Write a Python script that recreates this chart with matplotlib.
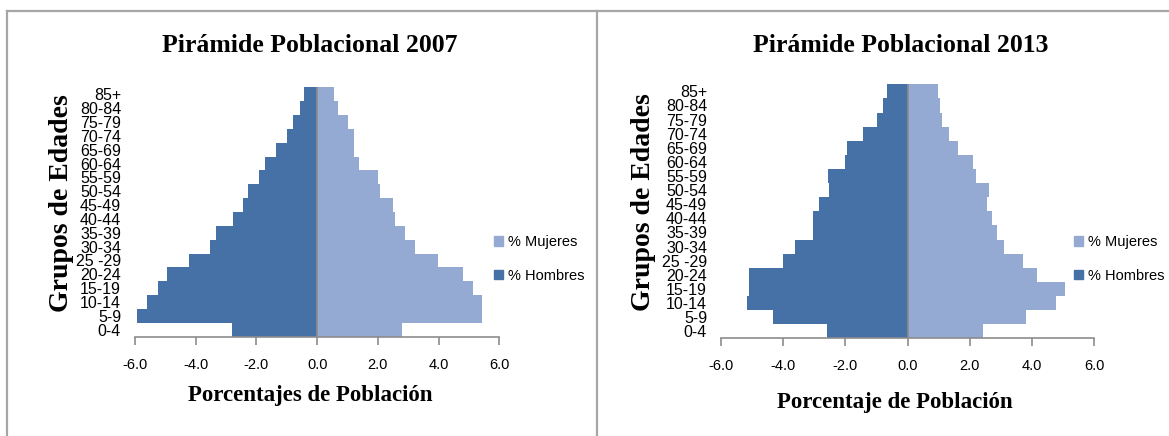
import matplotlib
matplotlib.use("Agg")
import matplotlib.pyplot as plt
from matplotlib.patches import Patch
from matplotlib.lines import Line2D
import numpy as np

# datos (de abajo hacia arriba)
edades = ['0-4', '5-9', '10-14', '15-19', '20-24', '25 -29', '30-34', '35-39', '40-44',
          '45-49', '50-54', '55-59', '60-64', '65-69', '70-74', '75-79', '80-84', '85+']

hombres_2007 = [2.81, 5.93, 5.62, 5.25, 4.93, 4.23, 3.52, 3.34, 2.77,
                2.45, 2.28, 1.92, 1.73, 1.37, 1.00, 0.80, 0.58, 0.44]
mujeres_2007 = [2.79, 5.42, 5.42, 5.14, 4.82, 3.98, 3.23, 2.88, 2.58,
                2.49, 2.07, 2.00, 1.37, 1.20, 1.23, 1.01, 0.70, 0.57]

hombres_2013 = [2.60, 4.32, 5.16, 5.10, 5.10, 4.02, 3.62, 3.03, 3.05,
                2.84, 2.53, 2.57, 2.01, 1.96, 1.45, 1.00, 0.78, 0.65]
mujeres_2013 = [2.41, 3.80, 4.76, 5.06, 4.15, 3.72, 3.11, 2.88, 2.72,
                2.56, 2.63, 2.20, 2.11, 1.63, 1.34, 1.11, 1.04, 0.99]

ticks_x = [-6.0, -4.0, -2.0, 0.0, 2.0, 4.0, 6.0]

col_h = '#4671A6'
col_m = '#95AAD2'
gris = '#8C8C8C'
serif = ['Liberation Serif', 'DejaVu Serif']
narrow = ['Liberation Sans Narrow', 'Liberation Sans', 'DejaVu Sans']
sans = ['Liberation Sans', 'DejaVu Sans']

W, H = 1169, 436
fig = plt.figure(figsize=(W / 100, H / 100), dpi=100)


def px(x0, y0, x1, y1):
    # caja en pixeles -> fracciones de figura
    return [x0 / W, 1 - y1 / H, (x1 - x0) / W, (y1 - y0) / H]


def piramide(rect, hombres, mujeres, titulo, xlab, tx, xlx, xly, ylx, yly, leg_x):
    ax = fig.add_axes(rect)
    y = np.arange(len(edades))
    ax.barh(y, -np.array(hombres), height=1.0, color=col_h, linewidth=0)
    ax.barh(y, mujeres, height=1.0, color=col_m, linewidth=0)
    ax.axvline(0, color=gris, lw=1.2)
    ax.set_xlim(-6, 6)
    ax.set_ylim(-0.5, len(edades) - 0.5)
    ax.set_xticks(ticks_x)
    ax.set_xticklabels([f'{t:.1f}' for t in ticks_x], family=sans, fontsize=10.5)
    ax.set_yticks(y)
    ax.set_yticklabels(edades, family=narrow, fontsize=11.5)
    ax.tick_params(axis='y', length=0, pad=10)
    ax.tick_params(axis='x', length=6, color=gris, width=1.2, pad=9, direction='out')
    for s in ['top', 'right', 'left']:
        ax.spines[s].set_visible(False)
    ax.spines['bottom'].set_color(gris)
    ax.spines['bottom'].set_linewidth(1.2)

    fig.text(tx / W, 1 - 45 / H, titulo, ha='center', va='center',
             family=serif, fontweight='bold', fontsize=18.5)
    fig.text(xlx / W, 1 - xly / H, xlab, ha='center', va='center',
             family=serif, fontweight='bold', fontsize=16.5)
    fig.text(ylx / W, 1 - yly / H, 'Grupos de Edades', ha='center', va='center',
             rotation=90, family=serif, fontweight='bold', fontsize=20)

    handles = [Patch(color=col_m, label='% Mujeres'), Patch(color=col_h, label='% Hombres')]
    fig.legend(handles=handles, loc='center left', bbox_to_anchor=(leg_x / W, 1 - 259 / H),
               frameon=False, prop={'family': sans, 'size': 10.5}, handlelength=0.6,
               handleheight=0.6, handletextpad=0.35, labelspacing=1.35, borderpad=0,
               borderaxespad=0)
    return ax


piramide(px(135, 87.3, 499.3, 336.7), hombres_2007, mujeres_2007,
         'Pirámide Poblacional 2007', 'Porcentajes de Población',
         310, 310, 395, 62, 203, 494)
piramide(px(721, 84.3, 1094.3, 338.3), hombres_2013, mujeres_2013,
         'Pirámide Poblacional 2013', 'Porcentaje de Población',
         901, 895, 402, 644, 202, 1074)

# marco del documento
for xs, ys in [([7, W], [11, 11]), ([7, 7], [11, H]), ([597, 597], [11, H])]:
    fig.add_artist(Line2D([x / W for x in xs], [1 - v / H for v in ys],
                          color='#A6A6A6', lw=1.6))

fig.savefig('out.png', dpi=100)
